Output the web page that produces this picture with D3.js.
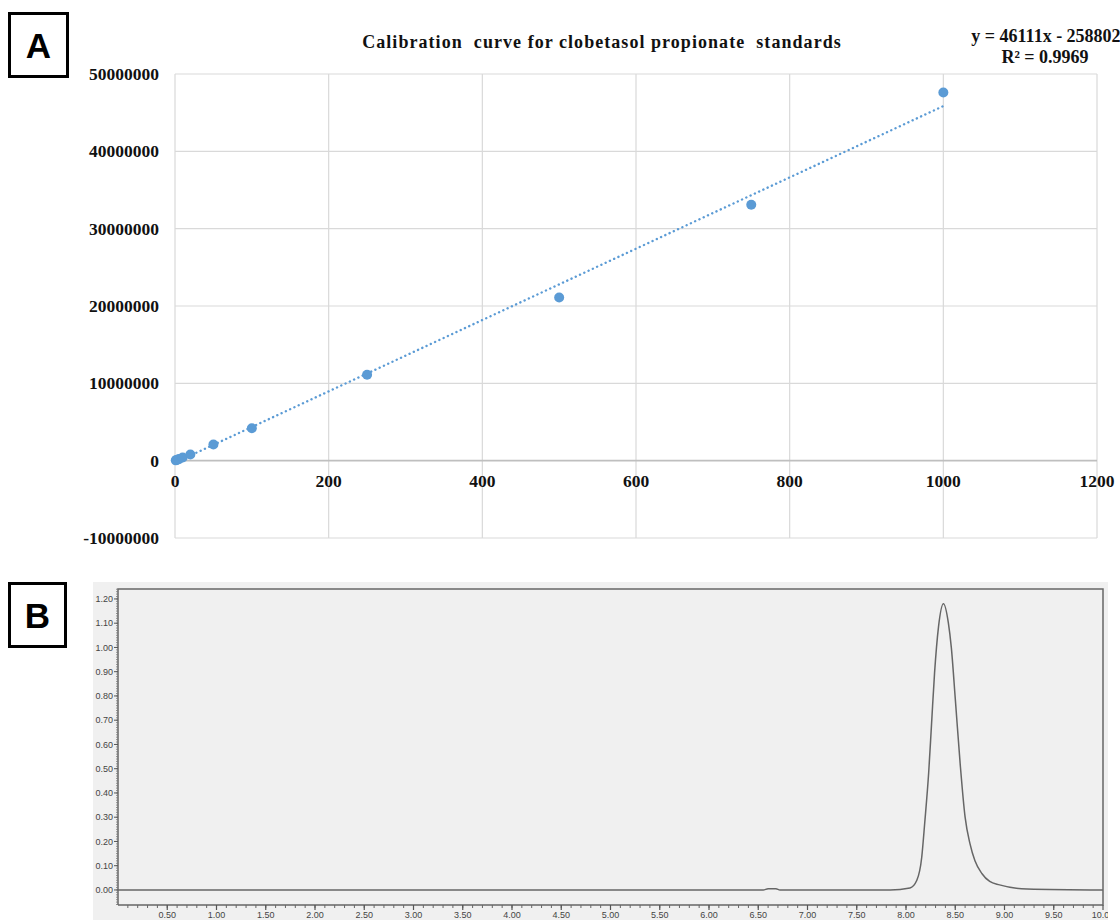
<!DOCTYPE html>
<html>
<head>
<meta charset="utf-8">
<style>
body { margin: 0; background: #fff; }
svg { display: block; }
.serif { font-family: "Liberation Serif", "Times New Roman", serif; font-weight: bold; fill: #111; }
.panel-label { font-family: "Liberation Sans", Arial, sans-serif; font-weight: bold; font-size: 35px; }
.chrom text { font-family: "Liberation Sans", Arial, sans-serif; font-size: 9px; fill: #444; }
</style>
<script src="https://d3js.org/d3.v7.min.js"></script>
</head>
<body>
<svg width="1120" height="920"></svg>
<script>
// --- panel A: calibration standards (concentration vs peak area)
var conc = [1, 2.5, 5, 10, 20, 50, 100, 250, 500, 750, 1000];
var area = [40000, 100000, 200000, 420000, 800000, 2100000, 4200000, 11100000, 21100000, 33100000, 47600000];
var trendSlope = 46111, trendIntercept = -258802;
var xTicksA = [0, 200, 400, 600, 800, 1000, 1200];
var yTicksA = [-10000000, 0, 10000000, 20000000, 30000000, 40000000, 50000000];

// --- panel B: chromatogram (time in min, absorbance)
var rtTime = [0, 6.55, 6.6, 6.68, 6.72, 7.84, 8.04, 8.11, 8.16, 8.19, 8.23, 8.26, 8.29, 8.33, 8.38,
              8.43, 8.46, 8.50, 8.55, 8.60, 8.65, 8.70, 8.77, 8.85, 8.95, 9.23, 10.0];
var rtAbs  = [0, 0, 0.005, 0.005, 0, 0, 0.008, 0.04, 0.136, 0.276, 0.482, 0.689, 0.895, 1.085, 1.18,
              1.101, 1.0, 0.79, 0.52, 0.30, 0.19, 0.12, 0.068, 0.035, 0.021, 0.004, 0];
var xTicksB = d3.range(1, 21).map(function(i) { return i * 0.5; });
var yTicksB = d3.range(0, 13).map(function(i) { return i / 10; });

var svg = d3.select("svg");

// panel letter boxes
function panelLabel(x, y, w, h, txt) {
  svg.append("rect").attr("x", x).attr("y", y).attr("width", w).attr("height", h)
    .attr("fill", "none").attr("stroke", "#000").attr("stroke-width", 3);
  svg.append("text").attr("class", "panel-label")
    .attr("x", x + w / 2).attr("y", y + h / 2).attr("dy", "0.36em")
    .attr("text-anchor", "middle").text(txt);
}
panelLabel(9.5, 13.5, 58, 63, "A");
panelLabel(9.5, 583.5, 56, 63, "B");

// ---------- A ----------
var xA = d3.scaleLinear().domain([0, 1200]).range([175, 1097]);
var yA = d3.scaleLinear().domain([-10000000, 50000000]).range([538, 74]);

var gA = svg.append("g");

gA.selectAll(".vgrid").data(xTicksA).enter().append("line")
    .attr("x1", xA).attr("x2", xA).attr("y1", yA(50000000)).attr("y2", yA(-10000000))
    .attr("stroke", "#d9d9d9").attr("stroke-width", 1.2);
gA.selectAll(".hgrid").data(yTicksA).enter().append("line")
    .attr("x1", xA(0)).attr("x2", xA(1200)).attr("y1", yA).attr("y2", yA)
    .attr("stroke", function(d) { return d === 0 ? "#bfbfbf" : "#d9d9d9"; })
    .attr("stroke-width", function(d) { return d === 0 ? 1.6 : 1.2; });

gA.selectAll(".ylab").data(yTicksA).enter().append("text")
    .attr("class", "serif").attr("font-size", 17.5)
    .attr("x", 159).attr("y", yA).attr("dy", "0.35em")
    .attr("text-anchor", "end").text(function(d) { return d; });
gA.selectAll(".xlab").data(xTicksA).enter().append("text")
    .attr("class", "serif").attr("font-size", 17.5)
    .attr("x", xA).attr("y", yA(0) + 26)
    .attr("text-anchor", "middle").text(function(d) { return d; });

// trendline (dotted)
gA.append("line")
    .attr("x1", xA(0)).attr("y1", yA(trendIntercept))
    .attr("x2", xA(1000)).attr("y2", yA(trendSlope * 1000 + trendIntercept))
    .attr("stroke", "#5b9bd5").attr("stroke-width", 2.4)
    .attr("stroke-dasharray", "0.1,4.6").attr("stroke-linecap", "round");

gA.selectAll(".pt").data(conc).enter().append("circle")
    .attr("cx", xA).attr("cy", function(d, i) { return yA(area[i]); })
    .attr("r", 5).attr("fill", "#5b9bd5");

gA.append("text").attr("class", "serif").attr("font-size", 18)
    .attr("x", 602).attr("y", 48).attr("text-anchor", "middle")
    .attr("letter-spacing", 1.05)
    .style("white-space", "pre")
    .text("Calibration  curve for clobetasol propionate  standards");
gA.append("text").attr("class", "serif").attr("font-size", 18)
    .attr("x", 1046).attr("y", 42).attr("text-anchor", "middle")
    .text("y = 46111x - 258802");
gA.append("text").attr("class", "serif").attr("font-size", 18)
    .attr("x", 1045).attr("y", 63).attr("text-anchor", "middle")
    .text("R\u00b2 = 0.9969");

// ---------- B ----------
var xB = d3.scaleLinear().domain([0, 10]).range([118, 1103]);
var yB = d3.scaleLinear().domain([-0.062, 1.241]).range([905, 589]);

svg.append("clipPath").attr("id", "clipB").append("rect")
    .attr("x", 93).attr("y", 582).attr("width", 1015).attr("height", 338);

var gB = svg.append("g").attr("class", "chrom").attr("clip-path", "url(#clipB)");
gB.append("rect").attr("x", 93).attr("y", 582).attr("width", 1015).attr("height", 338)
    .attr("fill", "#f0f0f0");

var line = d3.line()
    .x(function(d) { return xB(d); })
    .y(function(d, i) { return yB(rtAbs[i]); })
    .curve(d3.curveMonotoneX);
gB.append("path").attr("d", line(rtTime))
    .attr("fill", "none").attr("stroke", "#666").attr("stroke-width", 1.5);

// frame
gB.append("path")
    .attr("d", "M" + xB(0) + "," + yB(-0.062) + "V" + yB(1.241) + "H" + xB(10) + "V" + yB(-0.062) + "H" + xB(0))
    .attr("fill", "none").attr("stroke", "#666").attr("stroke-width", 1.5);

// y axis minor + major ticks
var yMinor = d3.range(-6, 125).map(function(i) { return i / 100; });
gB.selectAll(".ymin").data(yMinor).enter().append("line")
    .attr("x1", xB(0) - 2).attr("x2", xB(0)).attr("y1", yB).attr("y2", yB)
    .attr("stroke", "#777").attr("stroke-width", 0.8);
gB.selectAll(".ymaj").data(yTicksB).enter().append("line")
    .attr("x1", xB(0) - 4).attr("x2", xB(0)).attr("y1", yB).attr("y2", yB)
    .attr("stroke", "#555").attr("stroke-width", 1);
gB.selectAll(".ylab").data(yTicksB).enter().append("text")
    .attr("x", xB(0) - 5).attr("y", yB).attr("dy", "0.35em")
    .attr("text-anchor", "end").text(function(d) { return d.toFixed(2); });

// x axis ticks
var xMinor = d3.range(1, 100).map(function(i) { return i / 10; });
gB.selectAll(".xmin").data(xMinor).enter().append("line")
    .attr("x1", xB).attr("x2", xB).attr("y1", yB(-0.062)).attr("y2", yB(-0.062) + 3)
    .attr("stroke", "#666").attr("stroke-width", 1);
gB.selectAll(".xmaj").data(xTicksB).enter().append("line")
    .attr("x1", xB).attr("x2", xB).attr("y1", yB(-0.062)).attr("y2", yB(-0.062) + 5)
    .attr("stroke", "#555").attr("stroke-width", 1.2);
gB.selectAll(".xlab").data(xTicksB).enter().append("text")
    .attr("x", xB).attr("y", 918).attr("text-anchor", "middle")
    .text(function(d) { return d.toFixed(2); });
</script>
</body>
</html>
